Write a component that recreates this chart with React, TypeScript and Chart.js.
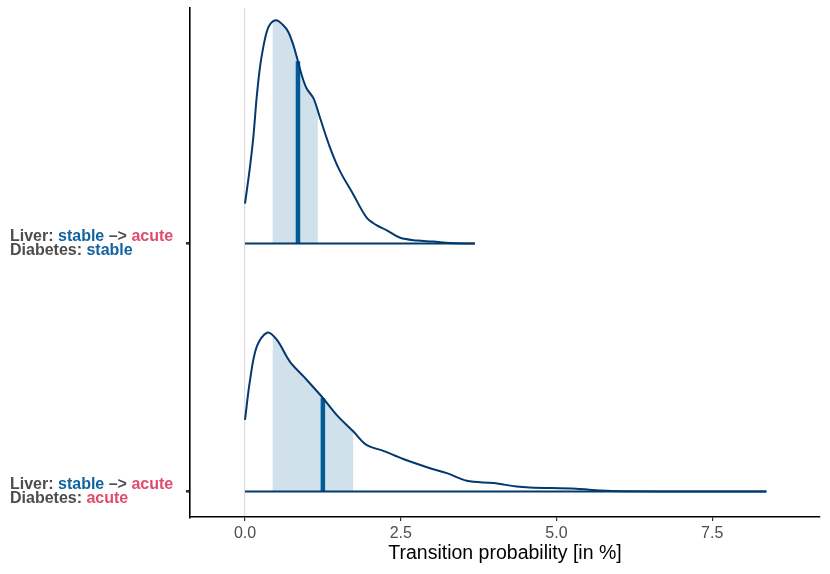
import React, { useEffect, useRef } from "react";
import { Chart, registerables } from "chart.js";

Chart.register(...registerables);

// ---- data ----
const X_TICKS = [0, 2.5, 5, 7.5];
const RIDGE_POS = [1, 0]; // y position of each ridge baseline

// Ridge 1: Liver stable -> acute, Diabetes stable
const X_STABLE = [0, 0.08, 0.134, 0.188, 0.241, 0.294, 0.348, 0.401, 0.498, 0.615, 0.695, 0.776, 0.83, 0.91, 0.99, 1.1, 1.2, 1.36, 1.52, 1.73, 1.95, 2.11, 2.27, 2.49, 2.76, 3.02, 3.29, 3.69];
const D_STABLE = [0.161, 0.309, 0.43, 0.591, 0.712, 0.793, 0.853, 0.884, 0.9, 0.88, 0.853, 0.8, 0.753, 0.679, 0.625, 0.585, 0.51, 0.39, 0.294, 0.202, 0.105, 0.074, 0.054, 0.023, 0.012, 0.008, 0.002, 0];
const INT_STABLE = [0.44, 1.17];
const MED_STABLE = 0.85;

// Ridge 2: Liver stable -> acute, Diabetes acute
const X_ACUTE = [0, 0.08, 0.19, 0.36, 0.51, 0.72, 0.94, 1.23, 1.47, 1.74, 1.95, 2.22, 2.54, 2.97, 3.24, 3.56, 3.99, 4.36, 4.57, 5.32, 5.7, 6.07, 7.3, 8.37];
const D_ACUTE = [0.289, 0.448, 0.585, 0.641, 0.612, 0.524, 0.464, 0.383, 0.309, 0.242, 0.188, 0.164, 0.131, 0.094, 0.074, 0.043, 0.034, 0.02, 0.016, 0.011, 0.004, 0.001, 0.0004, 0];
const INT_ACUTE = [0.44, 1.74];
const MED_ACUTE = 1.25;

const BLUE_TXT = "#0f63a0";
const PINK_TXT = "#e14b6e";
const GRAY_TXT = "#4d4d4d";

// Y labels: two lines each, segments of [text, color]
const LABEL_LINE1: [string, string][][] = [
  [["Liver: ", GRAY_TXT], ["stable", BLUE_TXT], [" \u2013> ", GRAY_TXT], ["acute", PINK_TXT]],
  [["Liver: ", GRAY_TXT], ["stable", BLUE_TXT], [" \u2013> ", GRAY_TXT], ["acute", PINK_TXT]],
];
const LABEL_LINE2: [string, string][][] = [
  [["Diabetes: ", GRAY_TXT], ["stable", BLUE_TXT]],
  [["Diabetes: ", GRAY_TXT], ["acute", PINK_TXT]],
];

const X_TITLE = "Transition probability [in %]";

// ---- styling ----
const CURVE_COLOR = "#03396c";
const MEDIAN_COLOR = "#005b96";
const FILL_COLOR = "#d1e1ec";
const FONT = "'Liberation Sans', Arial, Helvetica, sans-serif";
const TENSION = 0.35;

function interp(xs: number[], ds: number[], x: number): number {
  for (let i = 0; i < xs.length - 1; i++) {
    if (x >= xs[i] && x <= xs[i + 1]) {
      const t = (x - xs[i]) / (xs[i + 1] - xs[i]);
      return ds[i] + t * (ds[i + 1] - ds[i]);
    }
  }
  return 0;
}

function ridgeDatasets(xs: number[], ds: number[], base: number, iv: number[], med: number) {
  const curve = xs.map((x, i) => ({ x, y: base + ds[i] }));
  const fillPts: { x: number; y: number }[] = [{ x: iv[0], y: base + interp(xs, ds, iv[0]) }];
  xs.forEach((x, i) => {
    if (x > iv[0] && x < iv[1]) fillPts.push({ x, y: base + ds[i] });
  });
  fillPts.push({ x: iv[1], y: base + interp(xs, ds, iv[1]) });
  return [
    {
      data: fillPts,
      borderWidth: 0,
      borderColor: "rgba(0,0,0,0)",
      backgroundColor: FILL_COLOR,
      fill: { value: base },
      pointRadius: 0,
      tension: TENSION,
      order: 4,
    },
    {
      data: [{ x: med, y: base }, { x: med, y: base + interp(xs, ds, med) }],
      borderColor: MEDIAN_COLOR,
      borderWidth: 4.5,
      pointRadius: 0,
      fill: false,
      borderCapStyle: "butt",
      order: 3,
    },
    {
      data: [{ x: 0, y: base }, { x: xs[xs.length - 1], y: base }],
      borderColor: CURVE_COLOR,
      borderWidth: 2,
      pointRadius: 0,
      fill: false,
      order: 2,
    },
    {
      data: curve,
      borderColor: CURVE_COLOR,
      borderWidth: 2,
      pointRadius: 0,
      fill: false,
      tension: TENSION,
      order: 1,
    },
  ];
}

const yLabelPlugin = {
  id: "yRichLabels",
  afterDraw(chart: any) {
    const ctx = chart.ctx as CanvasRenderingContext2D;
    const ys = chart.scales.y;
    ctx.save();
    ctx.font = `bold 16px ${FONT}`;
    ctx.textBaseline = "alphabetic";
    ctx.textAlign = "left";
    RIDGE_POS.forEach((pos, i) => {
      const py = ys.getPixelForValue(pos);
      const drawLine = (segs: [string, string][], y: number) => {
        let x = 10;
        segs.forEach(([t, c]) => {
          ctx.fillStyle = c;
          ctx.fillText(t, x, y);
          x += ctx.measureText(t).width;
        });
      };
      drawLine(LABEL_LINE1[i], py - 3);
      drawLine(LABEL_LINE2[i], py + 11.5);
    });
    ctx.restore();
  },
};

export default function App() {
  const ref = useRef<HTMLCanvasElement | null>(null);
  useEffect(() => {
    if (!ref.current) return;
    Chart.defaults.font.family = FONT;
    const datasets: any[] = [
      ...ridgeDatasets(X_STABLE, D_STABLE, RIDGE_POS[0], INT_STABLE, MED_STABLE),
      ...ridgeDatasets(X_ACUTE, D_ACUTE, RIDGE_POS[1], INT_ACUTE, MED_ACUTE),
    ];
    const chart = new Chart(ref.current, {
      type: "line",
      data: { datasets },
      options: {
        animation: false,
        responsive: false,
        maintainAspectRatio: false,
        parsing: false as any,
        layout: { padding: { top: 8, right: 10, left: 0, bottom: 0 } },
        plugins: { legend: { display: false }, tooltip: { enabled: false } },
        scales: {
          x: {
            type: "linear",
            min: -0.883,
            max: 9.23,
            afterBuildTicks: (s: any) => {
              s.ticks = X_TICKS.map((v) => ({ value: v }));
            },
            ticks: {
              callback: (v: any) => Number(v).toFixed(1),
              color: GRAY_TXT,
              font: { size: 16 },
              padding: 3,
              maxRotation: 0,
              autoSkip: false,
            },
            grid: {
              color: (c: any) => (c.tick && c.tick.value === 0 ? "#dcdcdc" : "rgba(0,0,0,0)"),
              lineWidth: 1.2,
              tickColor: "#333333",
              tickLength: 4,
              drawTicks: true,
            },
            border: { display: true, color: "#000000", width: 1.6 },
            title: {
              display: true,
              text: X_TITLE,
              color: "#000000",
              font: { size: 19.5 },
              padding: { top: 1, bottom: 9 },
            },
            afterFit: (s: any) => {
              s.height = 57;
            },
          },
          y: {
            type: "linear",
            min: -0.1028,
            max: 1.9496,
            afterBuildTicks: (s: any) => {
              s.ticks = RIDGE_POS.map((v) => ({ value: v }));
            },
            ticks: { callback: () => "", padding: 0 },
            grid: {
              drawOnChartArea: false,
              tickColor: "#333333",
              tickLength: 4,
              drawTicks: true,
              lineWidth: 2.6,
            },
            border: { display: true, color: "#000000", width: 1.6 },
            afterFit: (s: any) => {
              s.width = 190;
            },
          },
        },
      },
      plugins: [yLabelPlugin],
    } as any);
    return () => chart.destroy();
  }, []);
  return (
    <div style={{ position: "absolute", left: 0, top: 0, width: 830, height: 574, background: "#fff" }}>
      <canvas ref={ref} width={830} height={574} style={{ display: "block" }} />
    </div>
  );
}
